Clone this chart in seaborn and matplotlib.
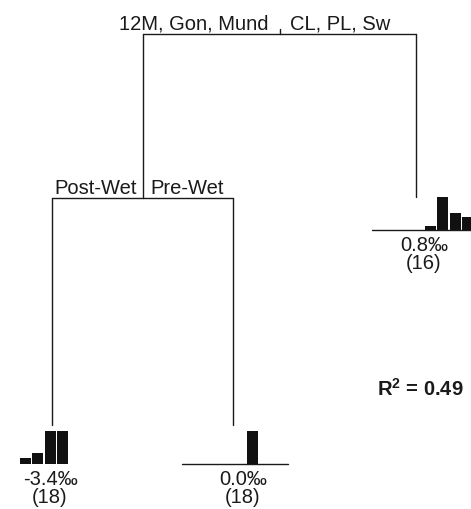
import numpy as np
import matplotlib.pyplot as plt
import seaborn as sns

# split labels (left branch | right branch)
split_left = ["12M, Gon, Mund", "Post-Wet"]
split_right = ["CL, PL, Sw", "Pre-Wet"]

# leaves: mean change (per mil), number of samples, histogram bar heights (relative)
leaf_mean = [-3.4, 0.0, 0.8]
leaf_n = [18, 18, 16]
leaf_hist = [
    [0.18, 0.33, 1.0, 1.0, 0, 0, 0, 0, 0],
    [0, 0, 0, 0, 0, 1.0, 0, 0, 0],
    [0, 0, 0, 0, 0.12, 1.0, 0.52, 0.39, 0],
]
r2 = 0.49

# layout (pixel-like coordinates, y downward)
root_y = 34
node_x = {"root": 279.5, "L": 142.5, "LL": 52, "LR": 233, "R": 416}
split_y = {"root": 34, "L": 198}
leaf_top = [425, 425, 197]
leaf_base = [464, 464, 230]
hist_x0 = [20, 185.5, 375.8]
show_base = [False, True, True]
label_x = [50, 243, 424]
bin_w = 12.3
bar_h = 33

sns.set_style("white")
plt.rcParams["font.family"] = ["Liberation Sans", "DejaVu Sans"]
plt.rcParams["mathtext.fontset"] = "custom"
plt.rcParams["mathtext.rm"] = "Liberation Sans"
plt.rcParams["mathtext.bf"] = "Liberation Sans:bold"

fig = plt.figure(figsize=(4.71, 5.09), dpi=100)
ax = fig.add_axes([0, 0, 1, 1])
ax.set_xlim(0, 471)
ax.set_ylim(509, 0)
ax.axis("off")

ink = "#1a1a1a"
lw = 1.0
fs = 14.5

# root split
ax.plot([node_x["L"], node_x["R"]], [root_y, root_y], color=ink, lw=lw)
ax.plot([node_x["root"], node_x["root"]], [root_y - 5, root_y], color=ink, lw=lw)
ax.plot([node_x["L"], node_x["L"]], [root_y, split_y["L"]], color=ink, lw=lw)
ax.plot([node_x["R"], node_x["R"]], [root_y, leaf_top[2]], color=ink, lw=lw)
ax.text(node_x["root"] - 11, root_y - 5, split_left[0], ha="right", va="baseline",
        fontsize=fs, color=ink)
ax.text(node_x["root"] + 11, root_y - 5, split_right[0], ha="left", va="baseline",
        fontsize=fs, color=ink)

# second split
ax.plot([node_x["LL"], node_x["LR"]], [split_y["L"], split_y["L"]], color=ink, lw=lw)
ax.plot([node_x["LL"], node_x["LL"]], [split_y["L"], leaf_top[0]], color=ink, lw=lw)
ax.plot([node_x["LR"], node_x["LR"]], [split_y["L"], leaf_top[1]], color=ink, lw=lw)
ax.text(node_x["L"] - 6, split_y["L"] - 4, split_left[1], ha="right", va="baseline",
        fontsize=fs, color=ink)
ax.text(node_x["L"] + 8, split_y["L"] - 4, split_right[1], ha="left", va="baseline",
        fontsize=fs, color=ink)

# leaves
for i in range(3):
    h = np.array(leaf_hist[i]) * bar_h
    xs = hist_x0[i] + np.arange(len(h)) * bin_w
    keep = h > 0
    ax.bar(xs[keep], h[keep], bottom=leaf_base[i] - h[keep], width=bin_w - 1.2,
           align="edge", color="#111111", edgecolor="none")
    if show_base[i]:
        ax.plot([hist_x0[i] - 4, hist_x0[i] + 102], [leaf_base[i], leaf_base[i]],
                color=ink, lw=lw)
    ax.text(label_x[i], leaf_base[i] + 21, f"{leaf_mean[i]:.1f}\u2030", ha="center",
            va="baseline", fontsize=fs, color=ink)
    ax.text(label_x[i], leaf_base[i] + 39, f"({leaf_n[i]})", ha="center",
            va="baseline", fontsize=fs, color=ink)

ax.text(377, 396, r"$\mathbf{R}^{\mathbf{2}}$" + f" = {r2:.2f}", ha="left",
        va="baseline", fontsize=fs, fontweight="bold", color=ink)

fig.savefig("out.png", dpi=100)
